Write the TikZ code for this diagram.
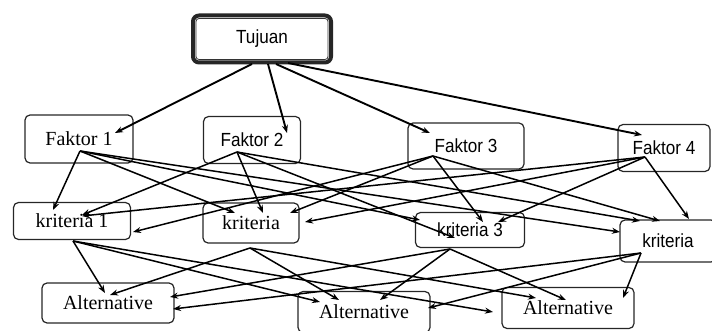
\documentclass[tikz,border=0pt]{standalone}
\usepackage{fontspec}
\setmainfont{Liberation Serif}
\newfontfamily\sansf[FakeStretch=0.9]{Liberation Sans}
\usetikzlibrary{calc,arrows.meta}
\begin{document}
\begin{tikzpicture}[x=1pt,y=-1pt,
  box/.style={draw=black!85, rounded corners=5pt, line width=1.2pt, inner sep=0pt},
  serf/.style={font=\fontsize{20}{24}\selectfont},
  sanf/.style={font=\sansf\fontsize{19}{23}\selectfont},
  arr/.style={draw=black, line width=1.5pt, -{Stealth[length=8pt,width=6pt]}},
  tarr/.style={arr, line width=1.9pt}]
\path[use as bounding box] (0,0) rectangle (712,331);
\clip (0,0) rectangle (712,331);
% nodes
\node[box, line width=4pt, rounded corners=6pt, minimum width=138pt, minimum height=47pt, sanf] (t) at (262,39) {Tujuan};
\draw[black!80, line width=0.8pt, rounded corners=3pt] ($(t.north west)+(5,5)$) rectangle ($(t.south east)+(-5,-5)$);
\node[box, minimum width=108pt, minimum height=48pt, serf] (f1) at (79,139) {Faktor 1};
\node[box, minimum width=97pt, minimum height=47pt, sanf] (f2) at (252,140) {Faktor 2};
\node[box, minimum width=116pt, minimum height=46pt, sanf] (f3) at (466,146) {Faktor 3};
\node[box, minimum width=92pt, minimum height=47pt, sanf] (f4) at (664,148) {Faktor 4};
\node[box, minimum width=117pt, minimum height=37pt, serf] (k1) at (72,221) {kriteria 1};
\node[box, minimum width=96pt, minimum height=40pt, serf] (k2) at (251,223) {kriteria};
\node[box, minimum width=109pt, minimum height=35pt, sanf] (k3) at (470,230) {kriteria 3};
\node[box, minimum width=96pt, minimum height=42pt, sanf] (k4) at (668,241) {kriteria};
\node[box, minimum width=132pt, minimum height=40pt, serf] (a1) at (108,303) {Alternative};
\node[box, minimum width=132pt, minimum height=41pt, serf] (a2) at (364,312) {Alternative};
\node[box, minimum width=132pt, minimum height=41pt, serf] (a3) at (568,308) {Alternative};
% start points
\coordinate (f1s) at ($(f1)+(1,12)$);
\coordinate (f2s) at ($(f2)+(-15,12)$);
\coordinate (f3s) at ($(f3)+(-33,10)$);
\coordinate (f4s) at ($(f4)+(-19,9)$);
\coordinate (k1s) at ($(k1)+(1,20)$);
\coordinate (k2s) at ($(k2)+(-1,25)$);
\coordinate (k3s) at ($(k3)+(-20,19)$);
\coordinate (k4s) at ($(k4)+(-27,12)$);
% Tujuan -> Faktor
\draw[tarr] ($(t)+(-10,25)$) -- ($(f1)+(36,-6)$);
\draw[tarr] ($(t)+(6,25)$) -- ($(f2)+(35,-7)$);
\draw[tarr] ($(t)+(14,25)$) -- ($(f3)+(-36,-13)$);
\draw[tarr] ($(t)+(26,24)$) -- ($(f4)+(-22,-13)$);
% Faktor -> kriteria
\draw[arr] (f1s) -- ($(k1)+(-19,-11)$);
\draw[arr] (f1s) -- ($(k2)+(-16,-10)$);
\draw[arr] (f1s) -- ($(k3)+(-50,-10)$);
\draw[arr] (f1s) -- ($(k4)+(-48,-9)$);
\draw[arr] (f2s) -- ($(k1)+(10,-6)$);
\draw[arr] (f2s) -- ($(k2)+(12,-10)$);
\draw[arr] (f2s) -- ($(k3)+(-15,8)$);
\draw[arr] (f2s) -- ($(k4)+(-28,-20)$);
\draw[arr] (f3s) -- ($(k1)+(61,11)$);
\draw[arr] (f3s) -- ($(k2)+(39,-10)$);
\draw[arr] (f3s) -- ($(k3)+(13,-8)$);
\draw[arr] (f3s) -- ($(k4)+(-8,-20)$);
\draw[arr] (f4s) -- ($(k1)+(10,-5)$);
\draw[arr] (f4s) -- ($(k2)+(54,-1)$);
\draw[arr] (f4s) -- ($(k3)+(28,-8)$);
\draw[arr] (f4s) -- ($(k4)+(21,-22)$);
% kriteria -> Alternative
\draw[arr] (k1s) -- ($(a1)+(-3,-10)$);
\draw[arr] (k1s) -- ($(a2)+(-44,-10)$);
\draw[arr] (k1s) -- ($(a3)+(-75,4)$);
\draw[arr] (k2s) -- ($(a1)+(2,-8)$);
\draw[arr] (k2s) -- ($(a2)+(-25,-12)$);
\draw[arr] (k2s) -- ($(a3)+(-32,-10)$);
\draw[arr] (k3s) -- ($(a1)+(62,-6)$);
\draw[arr] (k3s) -- ($(a2)+(16,-12)$);
\draw[arr] (k3s) -- ($(a3)+(-2,-8)$);
\draw[arr] (k4s) -- ($(a1)+(65,6)$);
\draw[arr] (k4s) -- ($(a2)+(64,-4)$);
\draw[arr] (k4s) -- ($(a3)+(55,-10)$);
\end{tikzpicture}
\end{document}
